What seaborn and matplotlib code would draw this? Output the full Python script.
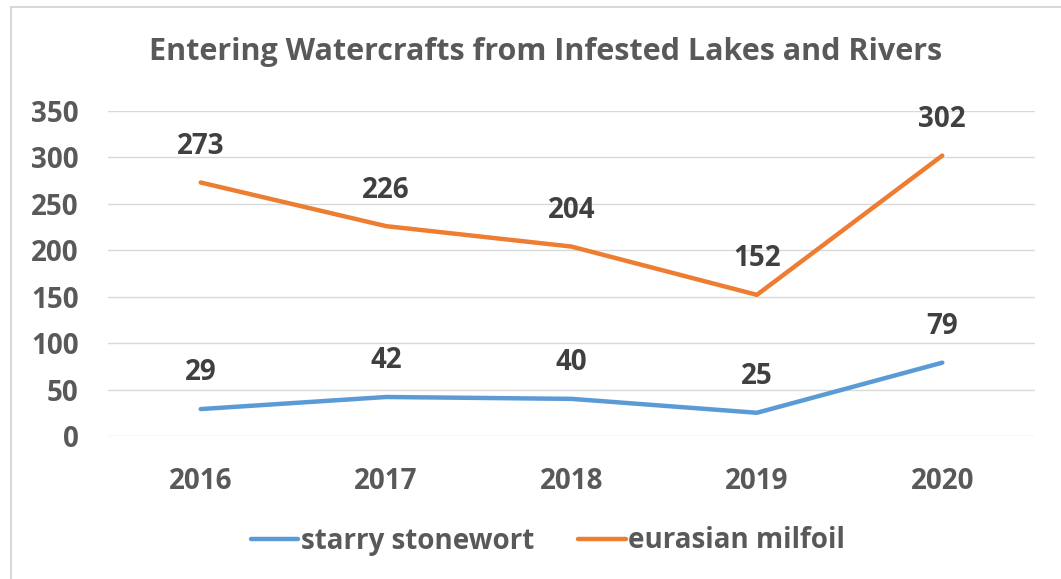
import matplotlib
matplotlib.use("Agg")
import matplotlib.pyplot as plt
import seaborn as sns
import pandas as pd
from matplotlib.patches import Rectangle
from matplotlib.lines import Line2D

years = ["2016", "2017", "2018", "2019", "2020"]
starry = [29, 42, 40, 25, 79]
milfoil = [273, 226, 204, 152, 302]
series_names = ["starry stonewort", "eurasian milfoil"]
yticks = [0, 50, 100, 150, 200, 250, 300, 350]

sns.set_theme(style="white")
plt.rcParams['font.family'] = ['Open Sans', 'DejaVu Sans']

txt = "#595959"
dark = "#404040"
colors = ["#5B9BD5", "#ED7D31"]
FS = 20

df = pd.DataFrame({
    "year": years * 2,
    "value": starry + milfoil,
    "series": [series_names[0]] * 5 + [series_names[1]] * 5,
})

fig = plt.figure(figsize=(10.61, 5.79), dpi=100)
ax = fig.add_axes([108/1061, 1-436/579, (1035-108)/1061, (436-111)/579])

sns.lineplot(data=df, x="year", y="value", hue="series", palette=colors,
             linewidth=3.2, ax=ax, sort=False, legend=False)
for ln in ax.lines:
    ln.set_solid_capstyle("round")

ax.set_xlim(-0.5, 4.5)
ax.set_ylim(0, 350)
ax.set_yticks(yticks)
ax.grid(axis="y", color="#D9D9D9", linewidth=1)
ax.grid(axis="x", visible=False)
ax.set_axisbelow(True)
for s in ax.spines.values():
    s.set_visible(False)
ax.set_xlabel("")
ax.set_ylabel("")
ax.tick_params(axis="both", length=0, labelsize=FS, labelcolor=txt)
ax.tick_params(axis="y", pad=21)
ax.tick_params(axis="x", pad=22)
for lab in ax.get_yticklabels() + ax.get_xticklabels():
    lab.set_fontweight("bold")

for vals in (starry, milfoil):
    for i, v in enumerate(vals):
        ax.annotate(str(v), (i, v), xytext=(0, 26), textcoords="offset points",
                    ha="center", va="center", fontsize=FS, fontweight="bold", color=dark)

fig.text(546/1061, 1-52/579, "Entering Watercrafts from Infested Lakes and Rivers",
         ha="center", va="center", fontsize=22, fontweight="bold", color=txt)

handles = [Line2D([], [], color=c, linewidth=3.2, solid_capstyle="round") for c in colors]
fig.legend(handles, series_names, loc="center", bbox_to_anchor=(548/1061, 1-541/579),
           ncol=2, frameon=False, labelcolor=txt, handlelength=1.7,
           handletextpad=0.1, columnspacing=1.6, prop={"weight": "bold", "size": FS})

fig.patches.append(Rectangle((11/1061, -0.05), 1.1, 1-7/579+0.05, transform=fig.transFigure,
                             fill=False, edgecolor="#D9D9D9", linewidth=1.5))

fig.savefig("out.png", dpi=100)
